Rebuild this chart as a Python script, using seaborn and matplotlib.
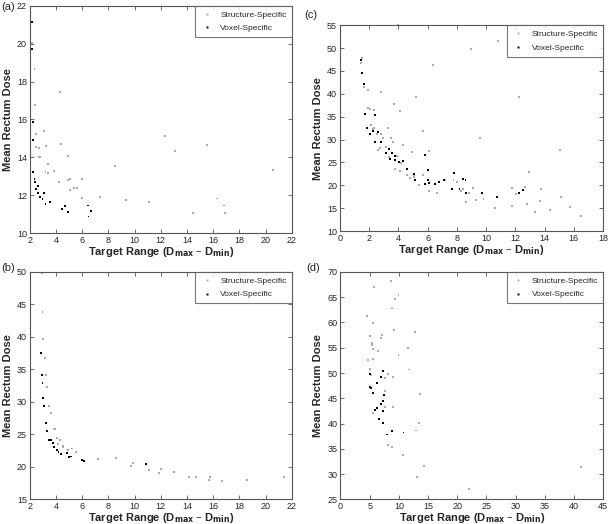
import numpy as np
import pandas as pd
import matplotlib
matplotlib.use("Agg")
import matplotlib.pyplot as plt
import seaborn as sns

# -------------------------------
# Data
# -------------------------------
# (a)
a_struct_x = [2.2, 2.36, 2.43, 2.51, 3.12, 3.27, 2.51, 2.71, 2.76, 2.69, 3.38, 3.2, 3.4, 3.86,
              4.24, 4.29, 4.39, 4.9, 4.9, 5.1, 5.06, 5.36, 5.62, 5.97, 5.97, 7.35, 8.47, 9.31,
              11.07, 12.29, 13.08, 14.43, 15.55, 16.32, 16.83, 16.9, 20.55]
a_struct_y = [20.02, 18.65, 16.77, 15.24, 15.41, 14.62, 14.57, 14.48, 14.04, 14.0, 13.66, 13.25,
              13.16, 13.3, 12.72, 17.45, 14.71, 14.09, 12.79, 12.86, 12.3, 12.36, 12.37, 12.88,
              11.88, 11.93, 13.57, 11.74, 11.62, 15.13, 14.36, 11.04, 14.66, 11.83, 11.46,
              11.09, 13.34]
a_voxel_x = [2.18, 2.2, 2.25, 2.28, 2.28, 2.36, 2.41, 2.51, 2.61, 2.66, 2.76, 2.97, 3.07, 3.2,
             3.53, 4.47, 4.7, 4.9, 6.41, 6.66, 6.48]
a_voxel_y = [21.14, 19.72, 15.85, 14.94, 13.22, 12.85, 12.69, 12.32, 12.5, 12.11, 11.93, 11.79,
             12.13, 11.55, 11.63, 11.3, 11.41, 11.11, 11.46, 11.16, 10.88]

# (b)
b_struct_x = [2.9, 2.97, 3.04, 3.15, 3.25, 3.35, 3.5, 3.61, 3.83, 3.94, 4.06, 4.27, 4.14, 4.52,
              4.52, 4.88, 5.19, 5.54, 7.2, 8.6, 9.7, 9.87, 11.07, 11.86, 11.99, 12.98, 14.16,
              14.69, 15.73, 15.71, 16.68, 18.6, 21.4]
b_struct_y = [49.9, 43.88, 39.68, 36.81, 34.15, 32.36, 29.39, 28.26, 25.86, 25.86, 24.42, 24.11,
              23.55, 23.19, 22.99, 22.63, 22.83, 22.32, 21.25, 21.35, 20.17, 20.63, 19.57, 19.1,
              19.61, 19.15, 18.48, 18.43, 18.48, 17.97, 17.86, 17.92, 18.48]
b_voxel_x = [2.87, 2.92, 2.97, 3.04, 3.12, 3.25, 3.35, 3.5, 3.63, 3.76, 3.83, 4.06, 4.19, 4.37,
             4.83, 5.0, 5.16, 5.98, 6.13, 10.87]
b_voxel_y = [37.48, 34.15, 32.97, 30.62, 29.39, 26.78, 25.55, 24.17, 24.17, 23.7, 23.04, 22.53,
             22.32, 21.96, 22.17, 21.45, 21.6, 21.04, 20.84, 20.38]

# (c)
c_struct_x = [1.44, 1.53, 1.67, 1.9, 1.92, 2.06, 2.12, 2.24, 2.31, 2.33, 2.54, 2.6, 2.72, 2.83,
              2.83, 2.92, 3.29, 3.17, 3.36, 3.49, 3.61, 3.68, 3.88, 3.75, 4.11, 4.18, 4.13, 4.34,
              3.97, 4.57, 4.77, 4.93, 5.07, 5.09, 5.23, 5.41, 5.71, 5.71, 6.12, 6.08, 6.35, 6.65,
              6.76, 7.17, 7.77, 8.02, 8.25, 8.45, 8.63, 8.84, 8.98, 9.09, 9.3, 9.59, 9.82, 10.62,
              10.8, 11.76, 11.79, 12.01, 12.24, 12.65, 12.79, 12.95, 13.36, 13.71, 13.73, 14.37,
              15.03, 15.14, 15.76, 16.49]
c_struct_y = [46.63, 47.87, 41.39, 40.73, 36.87, 36.58, 33.16, 32.21, 32.43, 36.44, 31.19, 27.7,
              28.06, 31.19, 40.44, 30.39, 32.5, 28.43, 26.24, 30.25, 29.37, 37.75, 26.39, 23.62,
              36.29, 24.93, 23.11, 28.72, 54.94, 22.24, 21.58, 27.26, 22.24, 21.87, 39.35, 20.12,
              22.24, 31.78, 27.48, 18.74, 46.34, 18.38, 20.78, 21.14, 21.07, 20.71, 18.81, 19.25,
              16.41, 18.3, 49.77, 19.47, 16.85, 30.39, 16.92, 15.03, 51.44, 19.47, 15.46, 18.16,
              39.35, 19.69, 15.97, 22.96, 14.08, 16.48, 19.1, 14.59, 27.7, 17.5, 15.17, 13.28]
c_voxel_x = [1.46, 1.53, 1.67, 1.71, 1.83, 2.03, 2.24, 2.42, 2.42, 2.63, 2.83, 3.17, 3.38, 3.43,
             3.54, 3.75, 3.79, 4.04, 4.32, 4.57, 5.09, 5.16, 5.8, 5.85, 6.05, 6.01, 6.08, 6.49,
             6.76, 7.13, 7.67, 7.81, 8.18, 8.45, 8.59, 8.61, 9.73, 10.74, 12.27, 12.5]
c_voxel_y = [47.29, 44.6, 42.12, 35.64, 32.5, 31.12, 31.92, 35.35, 29.52, 31.63, 29.52, 27.04,
             27.84, 25.66, 26.97, 26.46, 25.51, 25.08, 25.37, 23.62, 22.38, 21.14, 20.27, 26.53,
             23.33, 21.07, 20.42, 20.2, 20.63, 21.14, 19.25, 22.6, 19.1, 21.36, 21.14, 18.3,
             18.23, 17.43, 18.23, 18.96]

# (d)
d_struct_x = [8.69, 5.74, 9.94, 9.26, 8.86, 4.6, 5.62, 9.09, 12.73, 5.05, 7.04, 6.93, 5.34, 5.39,
              11.54, 5.62, 6.42, 9.94, 4.65, 5.56, 5.05, 11.82, 5.17, 8.18, 7.56, 8.98, 7.61,
              7.61, 8.98, 5.62, 13.58, 7.27, 13.53, 12.9, 8.07, 8.81, 10.68, 14.38, 13.13, 22.1,
              41.23]
d_struct_y = [68.15, 67.04, 65.4, 64.61, 62.77, 61.26, 59.95, 58.5, 58.17, 57.32, 57.52, 56.87,
              55.89, 55.63, 54.9, 54.77, 54.38, 53.58, 52.6, 52.8, 50.76, 50.7, 49.65, 49.85,
              49.06, 49.26, 46.5, 43.29, 43.29, 42.1, 45.85, 40.14, 40.14, 38.63, 35.67, 35.41,
              33.71, 31.54, 29.37, 27.0, 31.4]
d_voxel_x = [7.27, 5.11, 6.99, 6.19, 5.11, 5.17, 5.62, 7.38, 7.22, 6.93, 6.25, 5.91, 7.33, 6.59,
             7.22, 8.81, 7.95, 10.8]
d_voxel_y = [50.43, 49.78, 49.12, 48.07, 47.29, 47.03, 45.98, 45.72, 44.54, 43.88, 43.16, 42.63,
             42.57, 40.93, 40.14, 38.56, 37.84, 38.23]

# -------------------------------
# Panel setup
# -------------------------------
panels = [
    ("(a)", a_struct_x, a_struct_y, a_voxel_x, a_voxel_y, (2, 22), np.arange(2, 23, 2), (10, 22), np.arange(10, 23, 2)),
    ("(c)", c_struct_x, c_struct_y, c_voxel_x, c_voxel_y, (0, 18), np.arange(0, 19, 2), (10, 55), np.arange(10, 56, 5)),
    ("(b)", b_struct_x, b_struct_y, b_voxel_x, b_voxel_y, (2, 22), np.arange(2, 23, 2), (15, 50), np.arange(15, 51, 5)),
    ("(d)", d_struct_x, d_struct_y, d_voxel_x, d_voxel_y, (0, 45), np.arange(0, 46, 5), (25, 70), np.arange(25, 71, 5)),
]

# axes rectangles in figure fractions (left, bottom, width, height)
rects = [
    (0.049, 0.555, 0.431, 0.434),
    (0.559, 0.559, 0.433, 0.393),
    (0.049, 0.047, 0.431, 0.434),
    (0.560, 0.047, 0.432, 0.434),
]
label_pos = [(0.002, 0.986), (0.500, 0.972), (0.002, 0.488), (0.503, 0.488)]

sns.set_style("ticks")
plt.rcParams["font.family"] = ["Liberation Sans", "DejaVu Sans"]
plt.rcParams["xtick.direction"] = "in"
plt.rcParams["ytick.direction"] = "in"

palette = {"Structure-Specific": "#ababab", "Voxel-Specific": "black"}
edge = "#555555"

fig = plt.figure(figsize=(6.08, 5.24), dpi=100)

for (tag, sx, sy, vx, vy, xlim, xt, ylim, yt), rect, lp in zip(panels, rects, label_pos):
    ax = fig.add_axes(rect)

    df = pd.DataFrame({
        "x": list(sx) + list(vx),
        "y": list(sy) + list(vy),
        "Method": ["Structure-Specific"] * len(sx) + ["Voxel-Specific"] * len(vx),
    })

    sns.scatterplot(
        data=df, x="x", y="y", hue="Method",
        palette=palette, marker="s", s=2, linewidth=0,
        ax=ax, clip_on=False
    )

    ax.set_xlim(*xlim)
    ax.set_ylim(*ylim)
    ax.set_xticks(xt)
    ax.set_yticks(yt)
    ax.tick_params(labelsize=6.5, length=3, width=0.6, color=edge,
                   top=True, right=True, pad=2)
    for sp in ax.spines.values():
        sp.set_color(edge)
        sp.set_linewidth(0.8)

    ax.set_xlabel("Target Range (D$_{\\mathbf{max}}$ \u2013 D$_{\\mathbf{min}}$)",
                  fontsize=8, fontweight="bold", labelpad=0)
    ax.set_ylabel("Mean Rectum Dose", fontsize=8, fontweight="bold", labelpad=3)

    leg = ax.legend(loc="upper right", fontsize=6, frameon=True, fancybox=False,
                    borderaxespad=0, markerscale=1.0, handletextpad=0.8,
                    borderpad=0.6, labelspacing=0.7, handlelength=1.6)
    leg.get_frame().set_edgecolor(edge)
    leg.get_frame().set_linewidth(0.8)

    fig.text(lp[0], lp[1], tag, fontsize=8, va="center", ha="left")

plt.savefig("out.png", dpi=100)
plt.close()
